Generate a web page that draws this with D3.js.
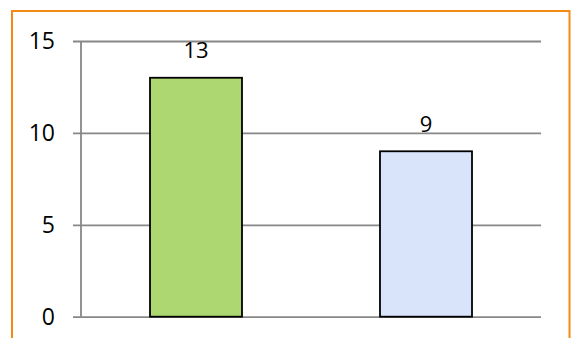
<!DOCTYPE html>
<html>
<head>
<meta charset="utf-8">
<script src="https://cdn.jsdelivr.net/npm/d3@7"></script>
<style>
  body { margin: 0; background: #fff; }
  text { font-family: "Open Sans", "Liberation Sans", sans-serif; fill: #000; }
</style>
</head>
<body>
<script>
const categories = ["A", "B"];
const values = [13, 9];
const barColors = ["#add770", "#d9e4fb"];
const yTicks = [0, 5, 10, 15];

const width = 571;
const height = 338;

const svg = d3.select('body')
              .append('svg')
              .attr('width', width)
              .attr('height', height);

// orange frame, bottom edge runs off the picture
svg.append('rect')
   .attr('x', 12)
   .attr('y', 11)
   .attr('width', 557.5)
   .attr('height', 340)
   .attr('fill', 'none')
   .attr('stroke', '#f28a14')
   .attr('stroke-width', 2);

const x = d3.scaleBand()
            .domain(categories)
            .range([81, 541])
            .paddingInner(0.6)
            .paddingOuter(0.3);

const y = d3.scaleLinear()
            .domain([0, 15])
            .range([316.7, 41]);

// gridlines + left ticks
const yAxis = d3.axisLeft(y)
                .tickValues(yTicks)
                .tickSize(-(541 - 81))
                .tickPadding(26)
                .tickFormat(d3.format('d'));

const g = svg.append('g')
             .attr('transform', 'translate(81,0)')
             .call(yAxis);

g.select('.domain').remove();
g.selectAll('.tick line')
 .attr('x1', -8)
 .attr('stroke', '#878787')
 .attr('stroke-width', 1.8);
g.selectAll('.tick text')
 .attr('font-size', 23)
 .attr('font-family', '"Open Sans", sans-serif')
 .attr('fill', '#000');

svg.append('line')
   .attr('x1', 81).attr('x2', 81)
   .attr('y1', y(15)).attr('y2', y(0))
   .attr('stroke', '#878787')
   .attr('stroke-width', 1.8);

svg.selectAll('rect.bar')
   .data(values)
   .enter()
   .append('rect')
   .attr('class', 'bar')
   .attr('x', (d, i) => x(categories[i]))
   .attr('y', d => y(d))
   .attr('width', x.bandwidth())
   .attr('height', d => y(0) - y(d))
   .attr('fill', (d, i) => barColors[i])
   .attr('stroke', '#000')
   .attr('stroke-width', 1.8);

svg.selectAll('text.val')
   .data(values)
   .enter()
   .append('text')
   .attr('class', 'val')
   .attr('x', (d, i) => x(categories[i]) + x.bandwidth() / 2)
   .attr('y', d => y(d) - 19.5)
   .attr('text-anchor', 'middle')
   .attr('font-size', 22)
   .text(d => d);
</script>
</body>
</html>
